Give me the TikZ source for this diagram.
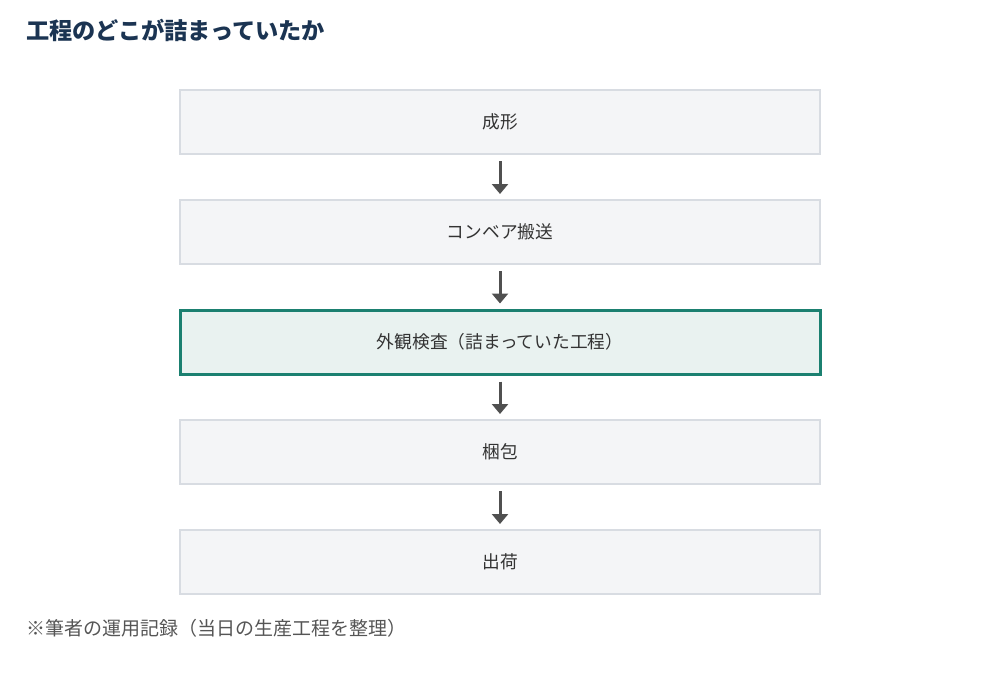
\documentclass[tikz,border=0pt]{standalone}
\usepackage{fontspec}
\setmainfont{Noto Sans CJK JP}
\usepackage{tikz}
\usetikzlibrary{arrows.meta, positioning}

\definecolor{titleblue}{HTML}{1B3452}
\definecolor{boxfill}{HTML}{F4F5F7}
\definecolor{boxline}{HTML}{D8DCE2}
\definecolor{hotfill}{HTML}{E9F2F0}
\definecolor{hotline}{HTML}{1B8070}
\definecolor{arrowgray}{HTML}{505050}
\definecolor{textgray}{HTML}{333333}
\definecolor{notegray}{HTML}{555555}

\begin{document}
\begin{tikzpicture}[x=1pt, y=-1pt,
  stage/.style={rectangle, draw=boxline, line width=2pt, fill=boxfill,
    minimum width=640pt, minimum height=64pt, inner sep=0pt,
    text=textgray, font=\fontsize{17.7}{17.7}\selectfont},
  hotstage/.style={stage, draw=hotline, line width=3pt, fill=hotfill},
  flow/.style={draw=arrowgray, line width=3pt,
    -{Triangle[length=10pt, width=16pt]}, shorten <=6pt, shorten >=5pt}]
\useasboundingbox (0,0) rectangle (1000,690);
% Title
\node[anchor=west, inner sep=0pt, text=titleblue, font=\fontsize{23.2}{23.2}\selectfont\bfseries] (title) at (26,30) {工程のどこが詰まっていたか};
% Stages
\node[stage] (mold) at (500,122) {成形};
\node[stage] (conv) at (500,232) {コンベア搬送};
\node[hotstage] (insp) at (500,342) {外観検査（詰まっていた工程）};
\node[stage] (pack) at (500,452) {梱包};
\node[stage] (ship) at (500,562) {出荷};
\draw[flow] (mold) -- (conv);
\draw[flow] (conv) -- (insp);
\draw[flow] (insp) -- (pack);
\draw[flow] (pack) -- (ship);
% Note
\node[anchor=west, inner sep=0pt, text=notegray, font=\fontsize{19}{19}\selectfont] (note) at (26,628) {※筆者の運用記録（当日の生産工程を整理）};
\end{tikzpicture}
\end{document}
